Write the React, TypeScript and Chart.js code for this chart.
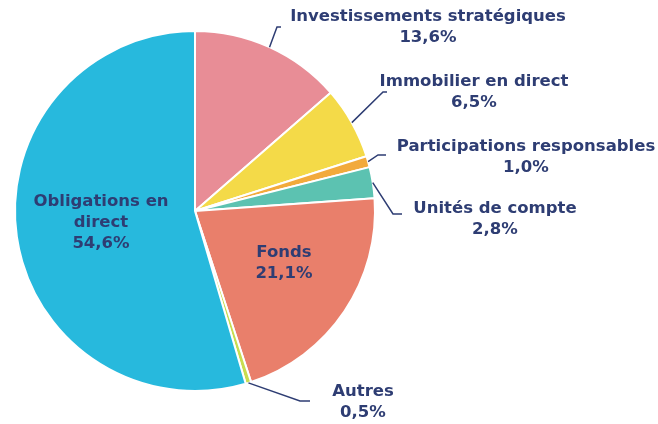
import React, { useEffect, useRef } from "react";
import { Chart, registerables } from "chart.js";

Chart.register(...registerables);

const categories = [
  "Investissements stratégiques",
  "Immobilier en direct",
  "Participations responsables",
  "Unités de compte",
  "Fonds",
  "Autres",
  "Obligations en direct",
];
const shares = [13.6, 6.5, 1.0, 2.8, 21.1, 0.5, 54.6];
const sliceColors = ["#e88d96", "#f4da48", "#f2aa3c", "#5cc2b1", "#e97f6b", "#c9dc4f", "#27b9dd"];
const labelLines = [
  ["Investissements stratégiques"],
  ["Immobilier en direct"],
  ["Participations responsables"],
  ["Unités de compte"],
  ["Fonds"],
  ["Autres"],
  ["Obligations en", "direct"],
];

// text placement (label layout, not data)
const labelLayout: { x: number; y: number; elbow?: number[]; end?: number[] }[] = [
  { x: 428, y: 17, elbow: [277, 27], end: [281, 27] },
  { x: 474, y: 82, elbow: [383, 92], end: [387, 92] },
  { x: 526, y: 147, elbow: [378, 155], end: [386, 155] },
  { x: 495, y: 209, elbow: [393, 214], end: [402, 214] },
  { x: 284, y: 253 },
  { x: 363, y: 392, elbow: [300, 401], end: [310, 401] },
  { x: 101, y: 202 },
];

const TEXT_COLOR = "#2e3d73";
const FONT = "bold 16.5px 'DejaVu Sans', Verdana, sans-serif";
const LINE_H = 21;

const fmt = (v: number) => v.toFixed(1).replace(".", ",") + "%";

const labelPlugin = {
  id: "pieLabels",
  afterDraw(chart: any) {
    const ctx = chart.ctx;
    const meta = chart.getDatasetMeta(0);
    ctx.save();
    meta.data.forEach((arc: any, i: number) => {
      const lay = labelLayout[i];
      if (!lay) return;
      const p = arc.getProps(["x", "y", "startAngle", "endAngle", "outerRadius"], true);
      if (lay.elbow && lay.end) {
        const mid = (p.startAngle + p.endAngle) / 2;
        const sx = p.x + Math.cos(mid) * p.outerRadius;
        const sy = p.y + Math.sin(mid) * p.outerRadius;
        ctx.strokeStyle = TEXT_COLOR;
        ctx.lineWidth = 1.5;
        ctx.beginPath();
        ctx.moveTo(sx, sy);
        ctx.lineTo(lay.elbow[0], lay.elbow[1]);
        ctx.lineTo(lay.end[0], lay.end[1]);
        ctx.stroke();
      }
      const lines = [...labelLines[i], fmt(shares[i])];
      ctx.fillStyle = TEXT_COLOR;
      ctx.font = FONT;
      ctx.textAlign = "center";
      ctx.textBaseline = "middle";
      lines.forEach((t, k) => ctx.fillText(t, lay.x, lay.y + k * LINE_H));
    });
    ctx.restore();
  },
};

export default function App() {
  const ref = useRef<HTMLCanvasElement>(null);
  useEffect(() => {
    if (!ref.current) return;
    const chart = new Chart(ref.current, {
      type: "pie",
      data: {
        labels: categories,
        datasets: [
          {
            data: shares,
            backgroundColor: sliceColors,
            borderColor: "#ffffff",
            borderWidth: 2,
          },
        ],
      },
      options: {
        responsive: false,
        animation: false,
        layout: { padding: { left: 14, top: 30, right: 282, bottom: 32 } },
        plugins: { legend: { display: false }, tooltip: { enabled: false } },
      },
      plugins: [labelPlugin],
    });
    return () => chart.destroy();
  }, []);
  return (
    <div style={{ position: "absolute", left: 0, top: 0, width: 658, height: 424, background: "#fff" }}>
      <canvas ref={ref} width={658} height={424} />
    </div>
  );
}
